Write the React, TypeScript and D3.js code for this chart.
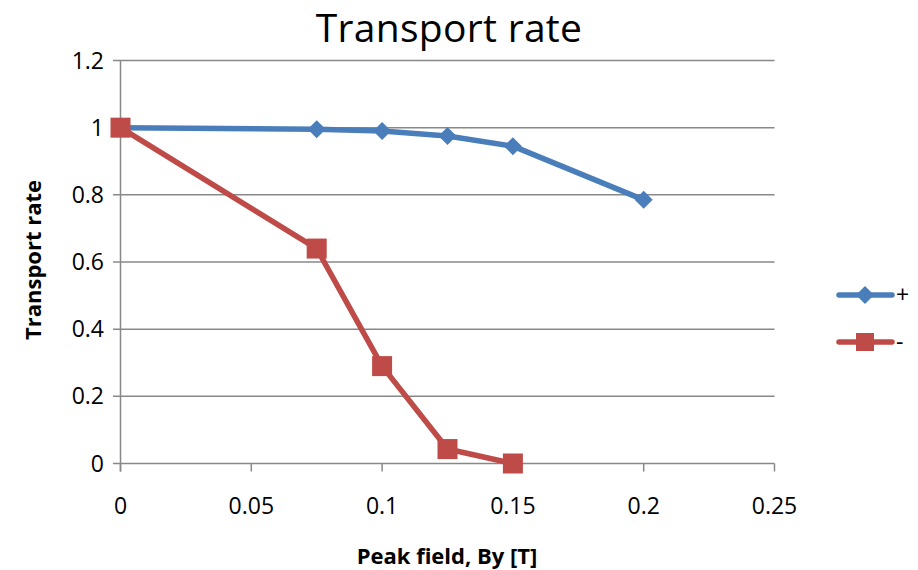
import React from "react";
import * as d3 from "d3";

const xTicks = [0, 0.05, 0.1, 0.15, 0.2, 0.25];
const yTicks = [0, 0.2, 0.4, 0.6, 0.8, 1, 1.2];
const plusX = [0, 0.075, 0.1, 0.125, 0.15, 0.2];
const plusY = [1, 0.995, 0.99, 0.975, 0.945, 0.785];
const minusX = [0, 0.075, 0.1, 0.125, 0.15];
const minusY = [1, 0.64, 0.29, 0.043, 0];
const seriesNames = ["+", "-"];
const title = "Transport rate";
const xTitle = "Peak field, By [T]";
const yTitle = "Transport rate";

const W = 918, H = 570;
const FONT = "'Open Sans', sans-serif";
const BLUE = "#4a7ebb";
const RED = "#be4b48";

export default function App() {
  const x = d3.scaleLinear().domain([0, 0.25]).range([120.5, 774.5]);
  const y = d3.scaleLinear().domain([0, 1.2]).range([463.5, 60.5]);
  const line = d3.line<[number, number]>().x(d => x(d[0])).y(d => y(d[1]));
  const plus: [number, number][] = plusX.map((v, i) => [v, plusY[i]]);
  const minus: [number, number][] = minusX.map((v, i) => [v, minusY[i]]);
  const diamond = (cx: number, cy: number, r: number) =>
    `M${cx},${cy - r}L${cx + r},${cy}L${cx},${cy + r}L${cx - r},${cy}Z`;
  const fmt = (v: number) => String(+v.toFixed(2));
  return (
    <svg width={W} height={H} style={{ position: "absolute", left: 0, top: 0, background: "#fff" }} fontFamily={FONT}>
      <rect width={W} height={H} fill="#fff" />
      <text x={449} y={42} textAnchor="middle" fontSize={39} letterSpacing={0.3} fill="#000">{title}</text>
      {yTicks.map(t => (
        <g key={"y" + t}>
          <line x1={113} x2={774.5} y1={y(t)} y2={y(t)} stroke="#888" strokeWidth={1.5} />
          <text x={104} y={y(t) + 8} textAnchor="end" fontSize={23} fill="#000">{fmt(t)}</text>
        </g>
      ))}
      <line x1={x(0)} x2={x(0)} y1={y(1.2)} y2={y(0) + 8} stroke="#888" strokeWidth={1.5} />
      {xTicks.map(t => (
        <g key={"x" + t}>
          <line x1={x(t)} x2={x(t)} y1={y(0)} y2={y(0) + 8} stroke="#888" strokeWidth={1.5} />
          <text x={x(t)} y={514} textAnchor="middle" fontSize={23} fill="#000">{fmt(t)}</text>
        </g>
      ))}
      <text x={447} y={564} textAnchor="middle" fontSize={22} fontWeight="bold" fill="#000">{xTitle}</text>
      <text transform="translate(41,260) rotate(-90)" textAnchor="middle" fontSize={22} fontWeight="bold" fill="#000">{yTitle}</text>
      <path d={line(plus) || ""} fill="none" stroke={BLUE} strokeWidth={5.5} strokeLinejoin="round" strokeLinecap="round" />
      {plus.map((d, i) => <path key={"p" + i} d={diamond(x(d[0]), y(d[1]), 9)} fill={BLUE} />)}
      <path d={line(minus) || ""} fill="none" stroke={RED} strokeWidth={5.5} strokeLinejoin="round" strokeLinecap="round" />
      {minus.map((d, i) => <rect key={"m" + i} x={x(d[0]) - 10} y={y(d[1]) - 10} width={20} height={20} fill={RED} />)}
      <line x1={839} x2={892} y1={295} y2={295} stroke={BLUE} strokeWidth={5.5} strokeLinecap="round" />
      <path d={diamond(865, 295, 9)} fill={BLUE} />
      <text x={896} y={303} fontSize={23} fill="#000">{seriesNames[0]}</text>
      <line x1={839} x2={892} y1={342} y2={342} stroke={RED} strokeWidth={5.5} strokeLinecap="round" />
      <rect x={856} y={333} width={18} height={18} fill={RED} />
      <text x={896} y={350} fontSize={23} fill="#000">{seriesNames[1]}</text>
    </svg>
  );
}
